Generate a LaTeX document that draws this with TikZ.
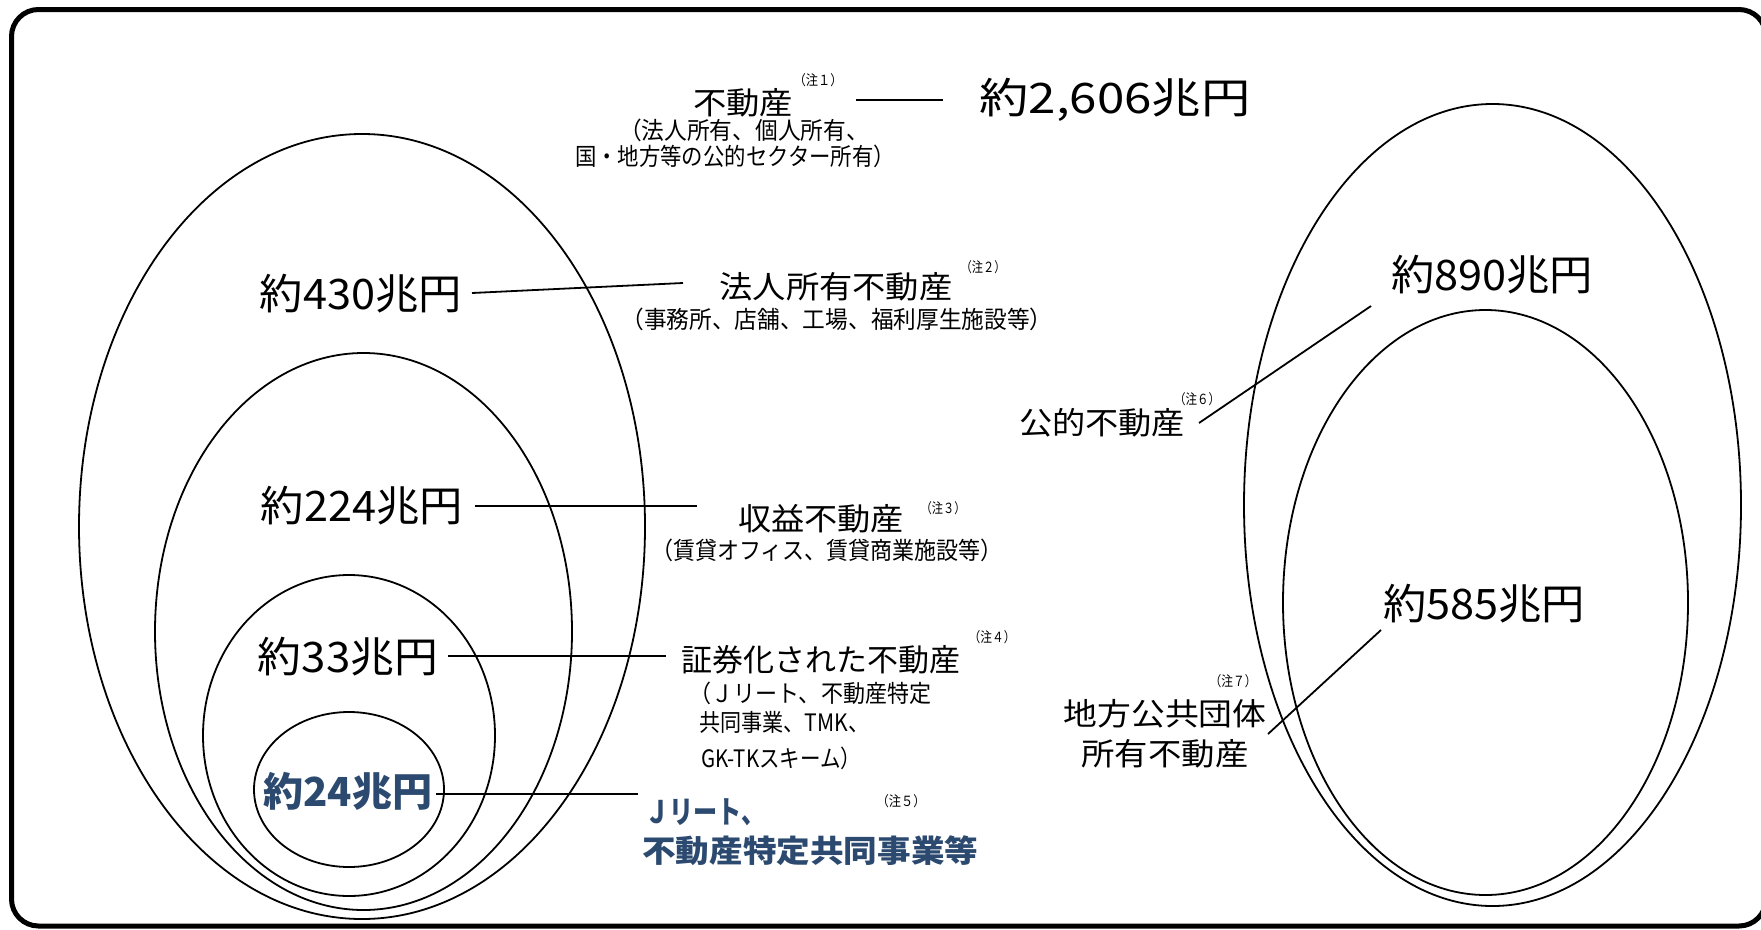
\documentclass[tikz,border=0pt]{standalone}
\usepackage{fontspec}
\usepackage{graphicx}
\setmainfont{Noto Sans CJK JP}
\definecolor{jblue}{RGB}{44,74,112}
\newcommand\tw[2]{\resizebox{#1pt}{\height}{#2}}
\tikzset{
  bigtxt/.style={font=\fontsize{42}{48}\selectfont, inner sep=0pt},
  ttltxt/.style={font=\fontsize{31}{36}\selectfont, inner sep=0pt},
  subtxt/.style={font=\fontsize{24}{28}\selectfont, inner sep=0pt},
  notetxt/.style={font=\fontsize{14}{16}\selectfont, inner sep=0pt},
  bluebig/.style={font=\fontsize{40}{46}\selectfont\bfseries, text=jblue, inner sep=0pt},
  bluettl/.style={font=\fontsize{31}{36}\selectfont\bfseries, text=jblue, inner sep=0pt},
  ell/.style={draw=black, line width=1.8pt},
  conn/.style={draw=black, line width=1.8pt},
  frame/.style={draw=black, line width=5pt, rounded corners=27pt},
}
\begin{document}
\begin{tikzpicture}[x=1pt, y=-1pt]
\useasboundingbox (0,0) rectangle (1761,929);
\fill[white] (0,0) rectangle (1761,929);
\draw[frame] (11.5,9.5) rectangle (1766,926);

% ellipses
\draw[ell] (362,526.5) ellipse [x radius=283, y radius=392.5];
\draw[ell] (363.5,631.5) ellipse [x radius=208.5, y radius=278.5];
\draw[ell] (349,735.5) ellipse [x radius=146, y radius=160.5];
\draw[ell] (349,789.5) ellipse [x radius=95, y radius=77.5];
\draw[ell] (1492.5,505) ellipse [x radius=248.5, y radius=401];
\draw[ell] (1485.5,602.5) ellipse [x radius=202.5, y radius=292.5];

% top group
\node[ttltxt] (fudosan) at (743,103) {\tw{100}{不動産}};
\node[notetxt] (n1) at (818,80) {\tw{49}{（注１）}};
\node[bigtxt] (total) at (1115,100) {\tw{271}{約2,606兆円}};
\node[subtxt] (sub1a) at (744,130) {\tw{250}{（法人所有、個人所有、}};
\node[subtxt] (sub1b) at (735,156) {\tw{320}{国・地方等の公的セクター所有）}};

% 430
\node[bigtxt] (v430) at (361,294) {\tw{202}{約430兆円}};
\node[ttltxt] (houjin) at (836,287) {\tw{233}{法人所有不動産}};
\node[notetxt] (n2) at (983,267) {\tw{45}{（注２）}};
\node[subtxt] (houjinsub) at (837,319) {\tw{431}{（事務所、店舗、工場、福利厚生施設等）}};

% 224
\node[bigtxt] (v224) at (362,506) {\tw{202}{約224兆円}};
\node[ttltxt] (shueki) at (821,519) {\tw{166}{収益不動産}};
\node[notetxt] (n3) at (943,508) {\tw{45}{（注３）}};
\node[subtxt] (shuekisub) at (827,550) {\tw{352}{（賃貸オフィス、賃貸商業施設等）}};

% 33
\node[bigtxt] (v33) at (348,657) {\tw{180}{約33兆円}};
\node[ttltxt] (shoken) at (821,660) {\tw{279}{証券化された不動産}};
\node[notetxt] (n4) at (992,637) {\tw{47}{（注４）}};
\node[subtxt, anchor=west] (s4a) at (689,693) {\tw{242}{（Ｊリート、不動産特定}};
\node[subtxt, anchor=west] (s4b) at (699,722) {\tw{170}{共同事業、TMK、}};
\node[subtxt, anchor=west] (s4c) at (701,758) {\tw{160}{GK-TKスキーム）}};

% 24
\node[bluebig] (v24) at (348,791) {\tw{169}{約24兆円}};
\node[bluettl, anchor=west] (jreit) at (645,812) {\tw{120}{Ｊリート、}};
\node[bluettl, anchor=west] (tokutei) at (642,851) {\tw{336}{不動産特定共同事業等}};
\node[notetxt] (n5) at (901,801) {\tw{49}{（注５）}};

% right side
\node[bigtxt] (v890) at (1492,275) {\tw{202}{約890兆円}};
\node[ttltxt] (koteki) at (1102,423) {\tw{166}{公的不動産}};
\node[notetxt] (n6) at (1197,399) {\tw{46}{（注６）}};
\node[bigtxt] (v585) at (1484,604) {\tw{202}{約585兆円}};
\node[ttltxt] (chiho) at (1165,714) {\tw{203}{地方公共団体}};
\node[ttltxt] (chiho2) at (1165,754) {\tw{167}{所有不動産}};
\node[notetxt] (n7) at (1233,681) {\tw{47}{（注７）}};

% connector end points
\coordinate (c0a) at (856,100);
\coordinate (c0b) at (943,100);
\coordinate (c1a) at (472,293);
\coordinate (c1b) at (683,283);
\coordinate (c2a) at (475,506);
\coordinate (c2b) at (697,506);
\coordinate (c3a) at (448,656);
\coordinate (c3b) at (666,656);
\coordinate (c4a) at (436,794);
\coordinate (c4b) at (638,794);
\coordinate (c5a) at (1371,306);
\coordinate (c5b) at (1199,423);
\coordinate (c6a) at (1381,630);
\coordinate (c6b) at (1268,734);

\draw[conn] (c0a) -- (c0b);
\draw[conn] (c1a) -- (c1b);
\draw[conn] (c2a) -- (c2b);
\draw[conn] (c3a) -- (c3b);
\draw[conn] (c4a) -- (c4b);
\draw[conn] (c5a) -- (c5b);
\draw[conn] (c6a) -- (c6b);
\end{tikzpicture}
\end{document}
